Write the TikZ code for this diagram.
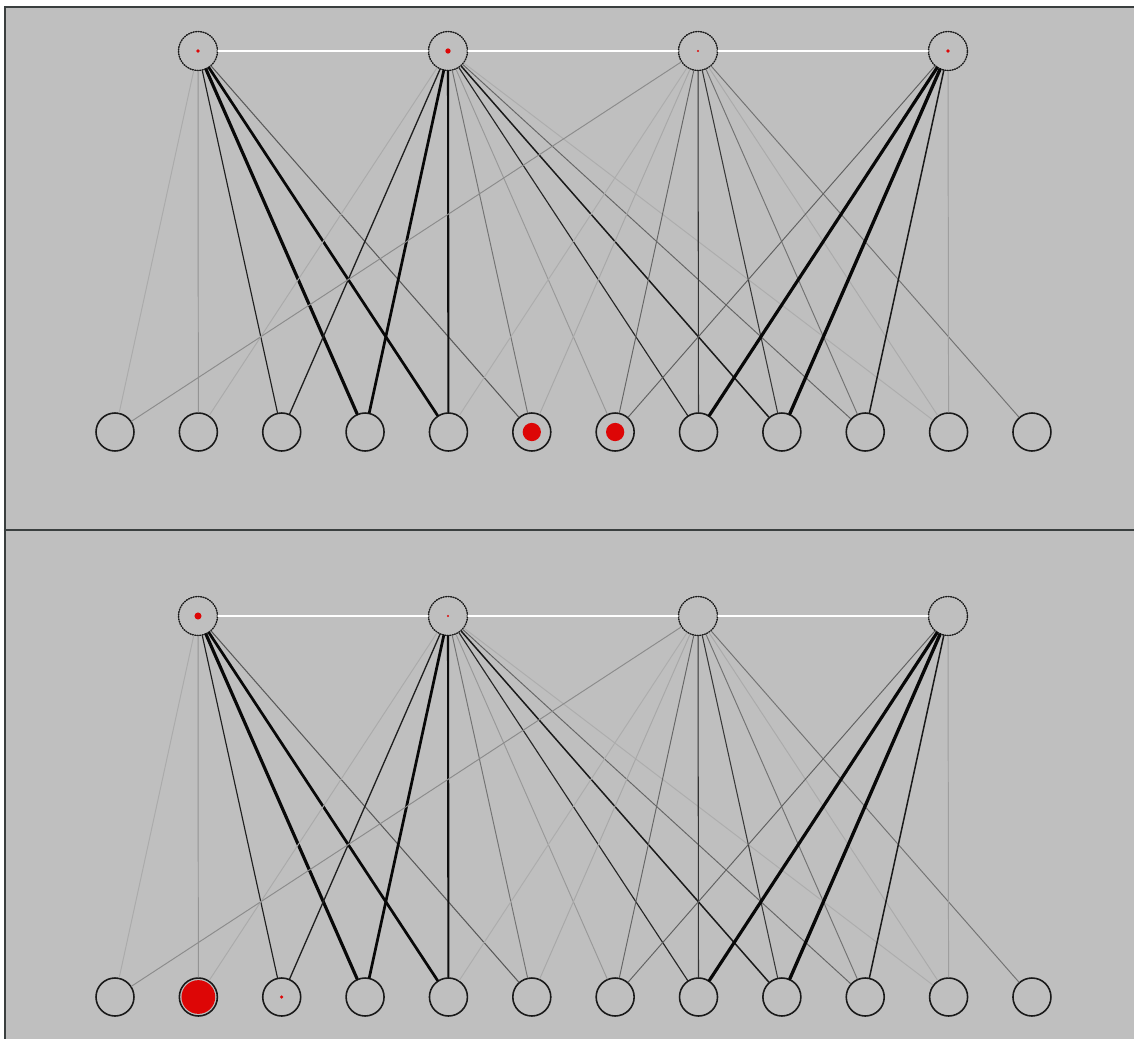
\documentclass[tikz,border=0pt]{standalone}
\usepackage{tikz}
\usetikzlibrary{positioning}
\definecolor{fondo}{HTML}{BFBFBF}
\definecolor{marco}{HTML}{3A3F3F}
\definecolor{rojo}{HTML}{DD0606}

\begin{document}
\begin{tikzpicture}[x=0.02cm,y=-0.02cm,line cap=round,
    hid/.style={circle,draw=black!90,dash pattern=on 0.6pt off 0.8pt,
                line width=0.8pt,minimum size=0.78cm,inner sep=0pt},
    vis/.style={circle,draw=black!90,line width=0.9pt,
                minimum size=0.76cm,inner sep=0pt}]
        \useasboundingbox (0,0) rectangle (1134,1039);
        \fill[white] (0,0) rectangle (1134,1039);
        \fill[fondo] (5,7) rectangle (1134,1039);
        \draw[marco,line width=0.9pt] (5,1039) -- (5,7) -- (1134,7);
        \draw[marco,line width=1.2pt] (5,530) -- (1134,530);
        % two panels, same weights
        \foreach \s/\dy in {t/0,b/565}{
          \foreach \i/\x in {1/198,2/448,3/698,4/948}
            \node[hid] (\s h\i) at (\x,51+\dy) {};
          \foreach \j in {1,...,12}
            \node[vis] (\s v\j) at ({115+83.36*(\j-1)},432+\dy) {};
          \draw[white,line width=1.1pt] (\s h1) -- (\s h2) -- (\s h3) -- (\s h4);
          \foreach \a/\b/\w/\g in {1/1/0.55/33, 1/2/0.55/42, 1/3/0.65/88,
                1/4/1.8/97, 1/5/1.55/97, 1/6/0.6/65,
                2/2/0.55/33, 2/3/0.75/88, 2/4/1.55/97, 2/5/1.2/95, 2/6/0.55/55,
                2/7/0.55/40, 2/8/0.65/85, 2/9/0.85/90, 2/10/0.55/60, 2/11/0.55/32,
                3/1/0.55/45, 3/5/0.55/32, 3/6/0.55/34, 3/7/0.55/60, 3/8/0.6/80,
                3/9/0.6/78, 3/10/0.55/55, 3/11/0.55/33, 3/12/0.55/55,
                4/7/0.55/62, 4/8/1.8/97, 4/9/1.9/97, 4/10/0.85/90, 4/11/0.55/38}{
            \draw[line width=\w pt,black!\g] (\s h\a) -- (\s v\b);
          }
        }
        \foreach \n/\r in {th1/1.1,th2/1.5,th3/0.6,th4/1.1,tv6/5.2,tv7/5.2,
              bh1/2.0,bh2/0.6,bv2/9.6,bv3/1.0}{
          \fill[rojo] (\n) circle (\r pt);
        }
      \end{tikzpicture}
\end{document}
